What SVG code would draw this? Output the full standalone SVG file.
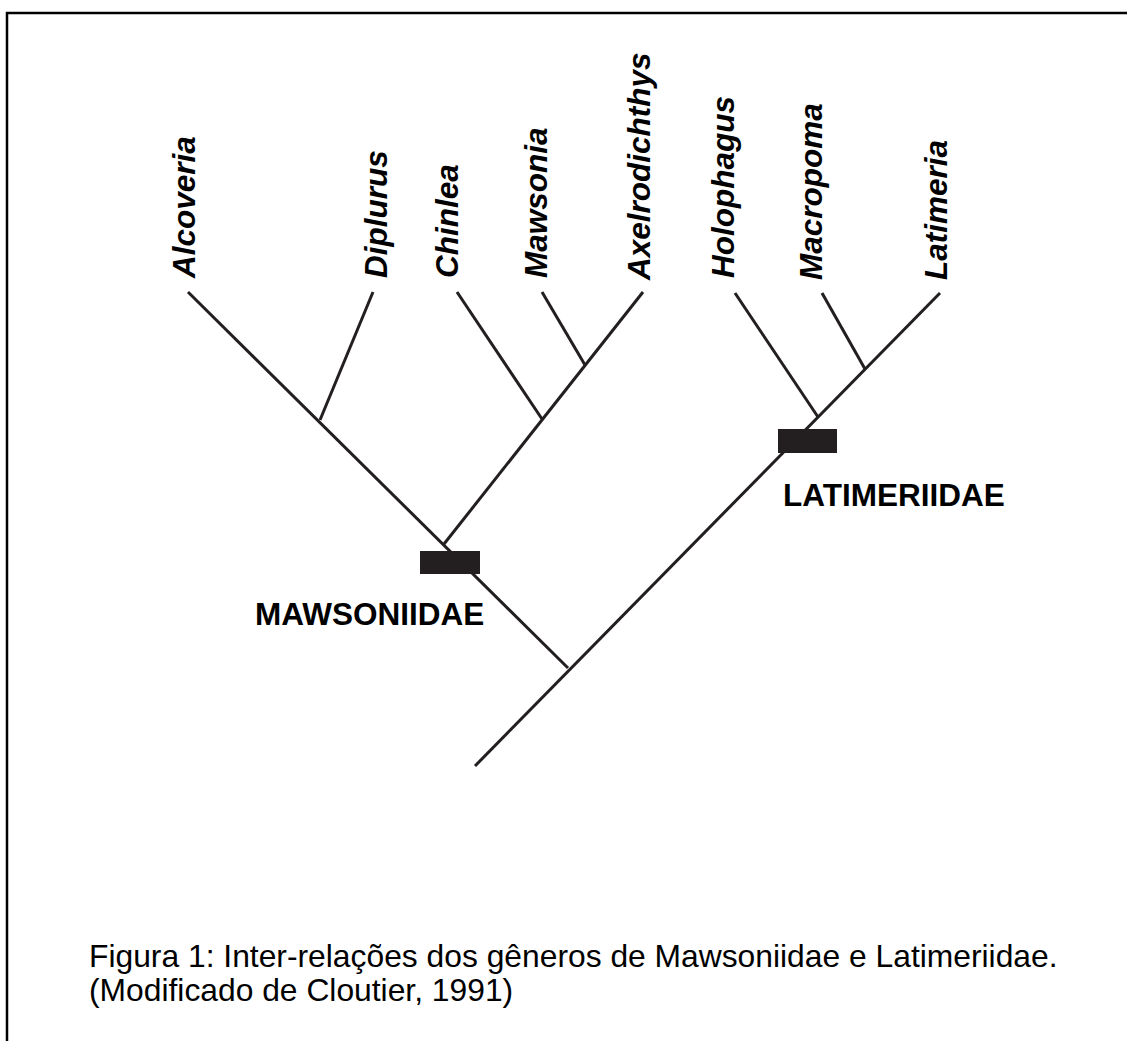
<svg xmlns="http://www.w3.org/2000/svg" width="1127" height="1041" viewBox="0 0 1127 1041">
<style>
.br{stroke:#231f20;stroke-width:3;fill:none;stroke-linecap:butt}
.bar{fill:#231f20}
.tx{font-family:"Liberation Sans",Arial,sans-serif;font-size:31.5px;font-weight:bold;font-style:italic;fill:#000}
.cl{font-family:"Liberation Sans",Arial,sans-serif;font-size:31.5px;font-weight:bold;fill:#000}
.cap{font-family:"Liberation Sans",Arial,sans-serif;font-size:31.8px;fill:#000}
</style>
<rect width="1127" height="1041" fill="#fff"/>
<path d="M7,1041 V13 H1127" fill="none" stroke="#000" stroke-width="2.5"/>
<g id="connectors">
<line class="br" x1="475" y1="766" x2="940" y2="293"/>
<line class="br" x1="568" y1="668" x2="188" y2="292"/>
<line class="br" x1="320" y1="420" x2="373" y2="292"/>
<line class="br" x1="444" y1="544" x2="643" y2="292"/>
<line class="br" x1="542" y1="419" x2="457" y2="292"/>
<line class="br" x1="585" y1="365" x2="542" y2="292"/>
<line class="br" x1="818" y1="417" x2="735" y2="293"/>
<line class="br" x1="865" y1="369" x2="822" y2="293"/>
</g>
<g id="bar-mawsoniidae"><rect class="bar" x="420" y="551" width="60" height="23"/></g>
<g id="bar-latimeriidae"><rect class="bar" x="778" y="429" width="59" height="24"/></g>
<g id="label-mawsoniidae"><text class="cl" x="255" y="625">MAWSONIIDAE</text></g>
<g id="label-latimeriidae"><text class="cl" x="783" y="506">LATIMERIIDAE</text></g>
<g id="n-alcoveria"><text class="tx" transform="translate(195,278) rotate(-90)">Alcoveria</text></g>
<g id="n-diplurus"><text class="tx" transform="translate(387,278) rotate(-90)">Diplurus</text></g>
<g id="n-chinlea"><text class="tx" transform="translate(458,278) rotate(-90)">Chinlea</text></g>
<g id="n-mawsonia"><text class="tx" transform="translate(547,278) rotate(-90)">Mawsonia</text></g>
<g id="n-axelrodichthys"><text class="tx" transform="translate(650,280) rotate(-90)">Axelrodichthys</text></g>
<g id="n-holophagus"><text class="tx" transform="translate(734,278) rotate(-90)">Holophagus</text></g>
<g id="n-macropoma"><text class="tx" transform="translate(822,280) rotate(-90)">Macropoma</text></g>
<g id="n-latimeria"><text class="tx" transform="translate(947,280) rotate(-90)">Latimeria</text></g>
<g id="caption">
<text class="cap" x="89" y="967">Figura 1: Inter-relações dos gêneros de Mawsoniidae e Latimeriidae.</text>
<text class="cap" x="89" y="1001">(Modificado de Cloutier, 1991)</text>
</g>
</svg>
